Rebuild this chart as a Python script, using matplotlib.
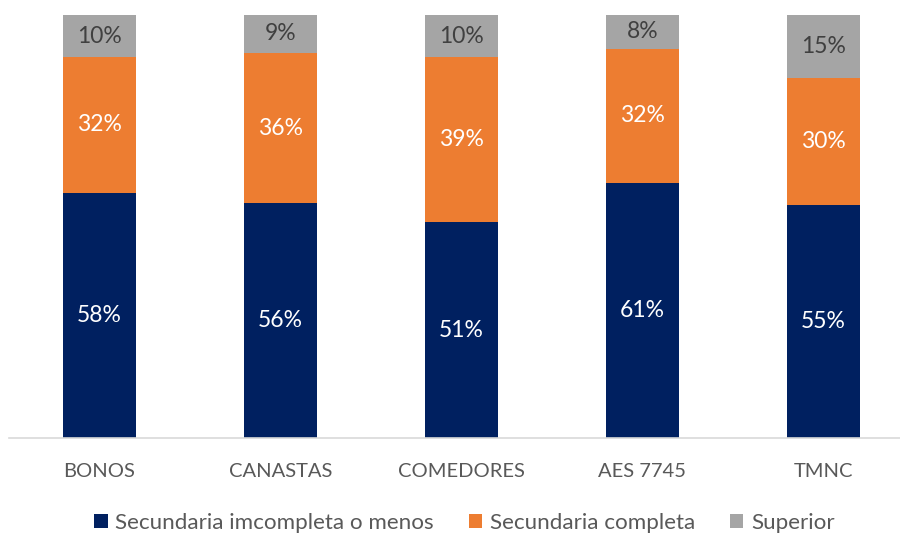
import numpy as np
import matplotlib
matplotlib.use("Agg")
import matplotlib.pyplot as plt
from matplotlib.patches import Patch

plt.rcParams['font.family'] = ['Lato', 'DejaVu Sans']

categories = ['BONOS', 'CANASTAS', 'COMEDORES', 'AES 7745', 'TMNC']
series_names = ['Secundaria imcompleta o menos', 'Secundaria completa', 'Superior']
incompleta = [58, 56, 51, 61, 55]
completa = [32, 36, 39, 32, 30]
superior = [10, 9, 10, 8, 15]

colors = ['#002060', '#ED7D31', '#A5A5A5']
label_colors = ['white', 'white', '#404040']

data = np.array([incompleta, completa, superior], dtype=float)
# 100% stacked: each column scaled to its own total
shares = data / data.sum(axis=0)

fig = plt.figure(figsize=(9, 5.36), dpi=100)
ax = fig.add_axes([9 / 900, 98 / 536, 905 / 900, 423 / 536])

x = np.arange(len(categories))
bottom = np.zeros(len(categories))
for vals, share, col, lcol in zip(data, shares, colors, label_colors):
    ax.bar(x, share, 0.4, bottom=bottom, color=col, edgecolor='none')
    for xi, b, s, v in zip(x, bottom, share, vals):
        ax.text(xi, b + s / 2, f'{v:.0f}%', ha='center', va='center',
                color=lcol, fontsize=16.5)
    bottom += share

ax.set_xlim(-0.5, len(categories) - 0.5)
ax.set_ylim(0, 1)
ax.set_yticks([])
ax.set_xticks(x)
ax.set_xticklabels(categories, fontsize=14.5, color='#595959')
ax.tick_params(axis='x', length=0, pad=18)
for side in ['top', 'right', 'left']:
    ax.spines[side].set_visible(False)
ax.spines['bottom'].set_color('#D9D9D9')
ax.spines['bottom'].set_linewidth(1.2)

handles = [Patch(facecolor=c, edgecolor='none') for c in colors]
fig.legend(handles, series_names, loc='center', bbox_to_anchor=(0.516, 13 / 536),
           ncol=3, frameon=False, fontsize=16.1, handlelength=0.6,
           handleheight=0.6, handletextpad=0.35, columnspacing=1.55,
           labelcolor='#595959')

fig.savefig('out.png', dpi=100)
